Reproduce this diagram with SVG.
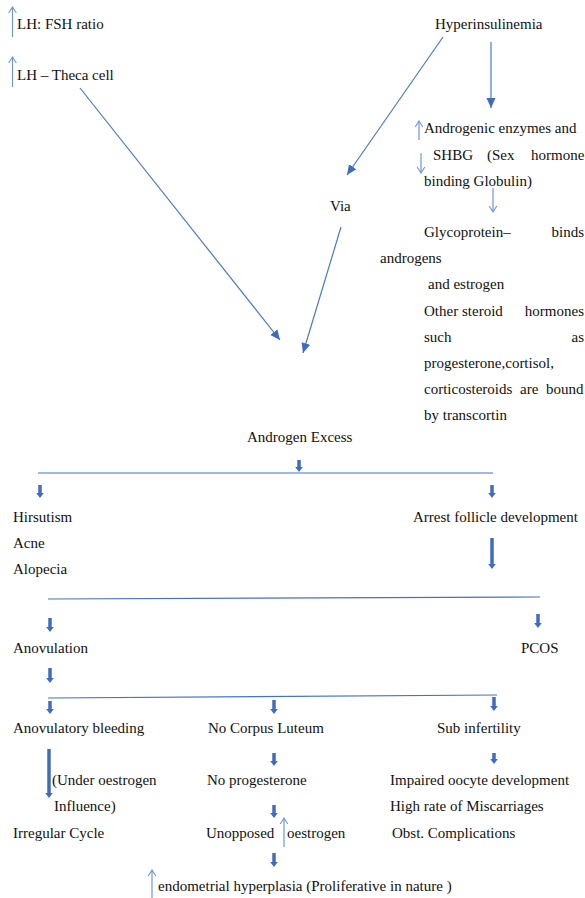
<svg xmlns="http://www.w3.org/2000/svg" width="585" height="898" viewBox="0 0 585 898">
<defs>
<style>
text{font-family:"Liberation Serif","Times New Roman",serif;font-size:15px;fill:#111}
.thin{stroke:#4a78cc;stroke-width:1.2;fill:none}
.up{stroke:#6f95d9;stroke-width:1.2;fill:none}
.hl{stroke:#4472C4;stroke-width:1.2;fill:none}
.blk{stroke:#3f6cbc;stroke-width:3.5;fill:none}
</style>
<marker id="tri" markerUnits="userSpaceOnUse" viewBox="-10 -5 10 10" refX="0" refY="0" markerWidth="10" markerHeight="10" orient="auto">
<path d="M-10,-4.5 L0,0 L-10,4.5 z" fill="#3f6cbc"/>
</marker>
<marker id="open" markerUnits="userSpaceOnUse" viewBox="-8 -5 9 10" refX="0" refY="0" markerWidth="9" markerHeight="10" orient="auto">
<path d="M-6,-3.8 L0,0 L-6,3.8" fill="none" stroke="#6f95d9" stroke-width="1.1"/>
</marker>
<marker id="bh" markerUnits="userSpaceOnUse" viewBox="0 -5 6 10" refX="0" refY="0" markerWidth="6" markerHeight="10" orient="auto">
<path d="M0,-3.8 L5,0 L0,3.8 z" fill="#3f6cbc"/>
</marker>
</defs>
<rect width="585" height="898" fill="#fff"/>

<g id="connectors">
<line class="up" x1="12.5" y1="37" x2="12.5" y2="7" marker-end="url(#open)"/>
<line class="up" x1="12.5" y1="87" x2="12.5" y2="57" marker-end="url(#open)"/>
<line class="thin" x1="80" y1="88" x2="280" y2="340" marker-end="url(#tri)"/>
<line class="thin" x1="443" y1="37" x2="347" y2="175" marker-end="url(#tri)"/>
<line class="thin" x1="341" y1="227" x2="303" y2="353" marker-end="url(#tri)"/>
<line class="thin" x1="491" y1="42" x2="491" y2="108" marker-end="url(#tri)"/>
<line class="up" x1="419" y1="140" x2="419" y2="121" marker-end="url(#open)"/>
<line class="up" x1="421" y1="153" x2="421" y2="173" marker-end="url(#open)"/>
<line class="up" x1="493" y1="188" x2="493" y2="212" marker-end="url(#open)"/>

<line class="blk" x1="299" y1="460" x2="299" y2="467" marker-end="url(#bh)"/>
<line class="hl" x1="38" y1="473" x2="493" y2="473"/>
<line class="blk" x1="40" y1="485" x2="40" y2="493" marker-end="url(#bh)"/>
<line class="blk" x1="492" y1="485" x2="492" y2="493" marker-end="url(#bh)"/>
<line class="blk" x1="492" y1="538" x2="492" y2="564" marker-end="url(#bh)"/>
<line class="hl" x1="48" y1="599" x2="540" y2="597"/>
<line class="blk" x1="50" y1="618" x2="50" y2="627" marker-end="url(#bh)"/>
<line class="blk" x1="538" y1="614" x2="538" y2="623" marker-end="url(#bh)"/>
<line class="blk" x1="50" y1="668" x2="50" y2="678" marker-end="url(#bh)"/>
<line class="hl" x1="48" y1="698" x2="497" y2="695"/>
<line class="blk" x1="50" y1="701" x2="50" y2="709" marker-end="url(#bh)"/>
<line class="blk" x1="274" y1="700" x2="274" y2="709" marker-end="url(#bh)"/>
<line class="blk" x1="494" y1="697" x2="494" y2="706" marker-end="url(#bh)"/>
<line class="blk" x1="49" y1="749" x2="49" y2="793" marker-end="url(#bh)"/>
<line class="blk" x1="274" y1="753" x2="274" y2="761" marker-end="url(#bh)"/>
<line class="blk" x1="494" y1="753" x2="494" y2="759" marker-end="url(#bh)"/>
<line class="blk" x1="274" y1="805" x2="274" y2="813" marker-end="url(#bh)"/>
<line class="up" x1="284" y1="847" x2="284" y2="818" marker-end="url(#open)"/>
<line class="blk" x1="274" y1="853" x2="274" y2="862" marker-end="url(#bh)"/>
<line class="up" x1="152" y1="898" x2="152" y2="870" marker-end="url(#open)"/>
</g>

<g id="n-lhfsh"><text x="17" y="29">LH: FSH ratio</text></g>
<g id="n-lhtheca"><text x="17" y="80">LH – Theca cell</text></g>
<g id="n-hyper"><text x="435" y="29">Hyperinsulinemia</text></g>
<g id="n-androgenic">
<text x="424" y="133">Androgenic enzymes and</text>
<text y="160"><tspan x="433">SHBG</tspan><tspan x="487">(Sex</tspan><tspan x="531">hormone</tspan></text>
<text x="424" y="186">binding Globulin)</text>
</g>
<g id="n-via"><text x="330" y="211">Via</text></g>
<g id="n-glyco">
<text x="424" y="237">Glycoprotein–</text>
<text x="584" y="237" text-anchor="end">binds</text>
<text x="380" y="263">androgens</text>
<text x="428" y="289">and estrogen</text>
<text x="424" y="316">Other</text>
<text x="462" y="316">steroid</text>
<text x="584" y="316" text-anchor="end">hormones</text>
<text x="424" y="342">such</text>
<text x="584" y="342" text-anchor="end">as</text>
<text x="424" y="368">progesterone,cortisol,</text>
<text y="394"><tspan x="424">corticosteroids</tspan><tspan x="520">are</tspan><tspan x="546">bound</tspan></text>
<text x="424" y="420">by transcortin</text>
</g>
<g id="n-androgen-excess"><text x="247" y="442">Androgen Excess</text></g>
<g id="n-hirsutism">
<text x="13" y="522">Hirsutism</text>
<text x="13" y="548">Acne</text>
<text x="13" y="574">Alopecia</text>
</g>
<g id="n-arrest"><text x="413" y="522">Arrest follicle development</text></g>
<g id="n-anovulation"><text x="13" y="653">Anovulation</text></g>
<g id="n-pcos"><text x="521" y="653">PCOS</text></g>
<g id="n-anov-bleeding"><text x="13" y="733">Anovulatory bleeding</text></g>
<g id="n-no-corpus"><text x="208" y="733">No Corpus Luteum</text></g>
<g id="n-subinfertility"><text x="437" y="733">Sub infertility</text></g>
<g id="n-under-oestrogen">
<text x="52" y="785">(Under oestrogen</text>
<text x="54" y="811">Influence)</text>
</g>
<g id="n-irregular"><text x="13" y="838">Irregular Cycle</text></g>
<g id="n-no-progesterone"><text x="207" y="785">No progesterone</text></g>
<g id="n-impaired">
<text x="390" y="785">Impaired oocyte development</text>
<text x="390" y="811">High rate of Miscarriages</text>
<text x="392" y="838">Obst. Complications</text>
</g>
<g id="n-unopposed">
<text x="206" y="838">Unopposed</text>
<text x="287" y="838">oestrogen</text>
</g>
<g id="n-endometrial"><text x="158" y="891">endometrial hyperplasia (Proliferative in nature )</text></g>
</svg>
